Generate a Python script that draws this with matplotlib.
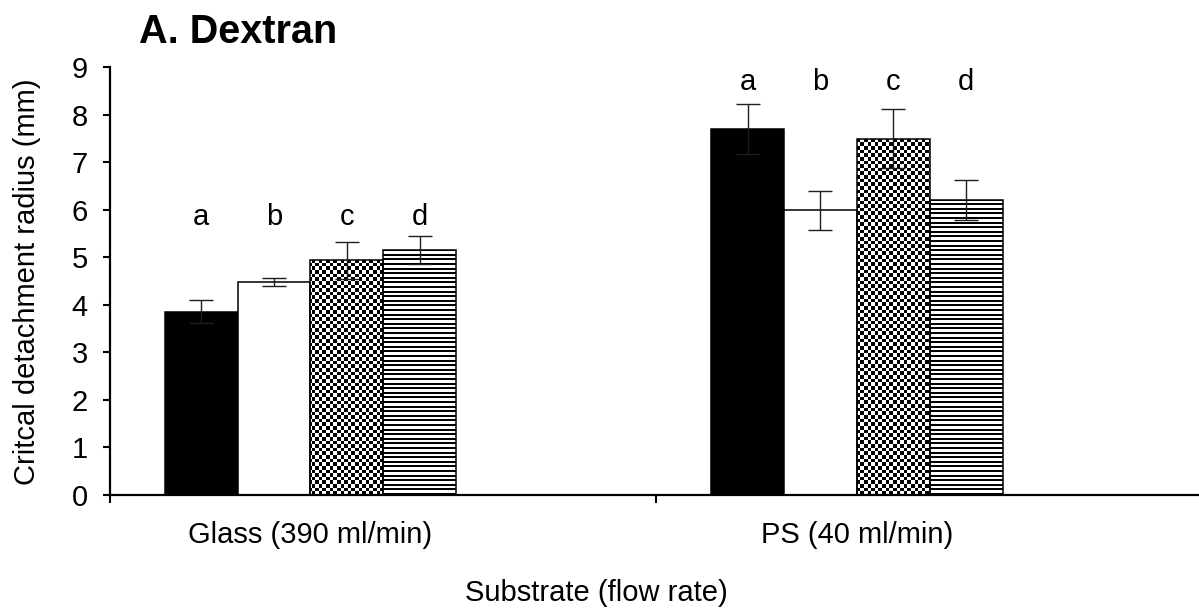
import numpy as np
import matplotlib

matplotlib.use('Agg')
import matplotlib.pyplot as plt

plt.rcParams['font.family'] = ['Liberation Sans', 'DejaVu Sans']

# --- data ---
substrates = ['Glass (390 ml/min)', 'PS (40 ml/min)']
groups = ['a', 'b', 'c', 'd']
mean_a = [3.85, 7.70]
mean_b = [4.48, 5.99]
mean_c = [4.94, 7.49]
mean_d = [5.15, 6.20]
err_a = [0.24, 0.52]
err_b = [0.09, 0.41]
err_c = [0.39, 0.62]
err_d = [0.30, 0.42]
letter_y = [5.68, 8.52]  # height of the a-d letters above each substrate

means = [mean_a, mean_b, mean_c, mean_d]
errs = [err_a, err_b, err_c, err_d]
fills = ['solid', 'white', 'checker', 'stripes']

W, H = 1199, 613
fig = plt.figure(figsize=(W / 100, H / 100), dpi=100)
ax_px = (110, 118, 1093, 428)
ax = fig.add_axes([ax_px[0] / W, ax_px[1] / H, ax_px[2] / W, ax_px[3] / H])

XLIM = (-0.5, 1.5)
YLIM = (0, 9)
w = 1 / 7.5          # six slots per category, only four used
x = np.arange(len(substrates))


def pattern(kind):
    if kind == 'checker':
        cell = 3.6
        nc, nr = int(ax_px[2] / cell), int(ax_px[3] / cell)
        i, j = np.indices((nr, nc))
        return ((i + j) % 2).astype(float)
    # horizontal stripes, one row per screen pixel
    r = np.arange(ax_px[3]) + 0.5
    return np.where((r % 4.6) < 2.0, 0.0, 1.0)[:, None] * np.ones((1, 4))


for j, (m, e, kind) in enumerate(zip(means, errs, fills)):
    xs = x + (j - 2.5) * w
    face = 'black' if kind == 'solid' else ('white' if kind == 'white' else 'none')
    bars = ax.bar(xs, m, width=w, color=face, edgecolor='black', linewidth=1.1, zorder=2)
    if kind in ('checker', 'stripes'):
        arr = pattern(kind)
        for b in bars:
            im = ax.imshow(arr, extent=(*XLIM, *YLIM), origin='lower', cmap='gray',
                           vmin=0, vmax=1, aspect='auto', interpolation='nearest', zorder=1.5)
            im.set_clip_path(b)
    ax.errorbar(xs, m, yerr=e, fmt='none', ecolor='#1e1e1e', elinewidth=1.0,
                capsize=8.5, capthick=1.0, zorder=3)
    for xi, ly in zip(xs, letter_y):
        ax.text(xi, ly, groups[j], ha='center', va='baseline', fontsize=21)

ax.set_xlim(*XLIM)
ax.set_ylim(*YLIM)
ax.set_yticks(range(0, 10))
ax.tick_params(axis='y', labelsize=21, length=5, width=1.5, pad=11)
ax.set_xticks([-0.5, 0.5, 1.5])
ax.set_xticklabels([])
ax.tick_params(axis='x', length=5.5, width=1.5)
for s in ('top', 'right'):
    ax.spines[s].set_visible(False)
for s in ('left', 'bottom'):
    ax.spines[s].set_linewidth(1.6)

# category labels sit under the four drawn bars
for xi, lab in zip(x - w, substrates):
    ax.text(xi, -(543 - 495) / ax_px[3], lab, transform=ax.get_xaxis_transform(),
            ha='center', va='baseline', fontsize=21)

fig.text(596 / W, (H - 601) / H, 'Substrate (flow rate)', ha='center', va='baseline', fontsize=21)
fig.text(27 / W, (H - 282) / H, 'Critcal detachment radius (mm)', rotation=90,
         ha='center', va='center', fontsize=21)
fig.text(139 / W, (H - 43) / H, 'A. Dextran', ha='left', va='baseline',
         fontsize=28.5, fontweight='bold')

fig.savefig('out.png', dpi=100)
